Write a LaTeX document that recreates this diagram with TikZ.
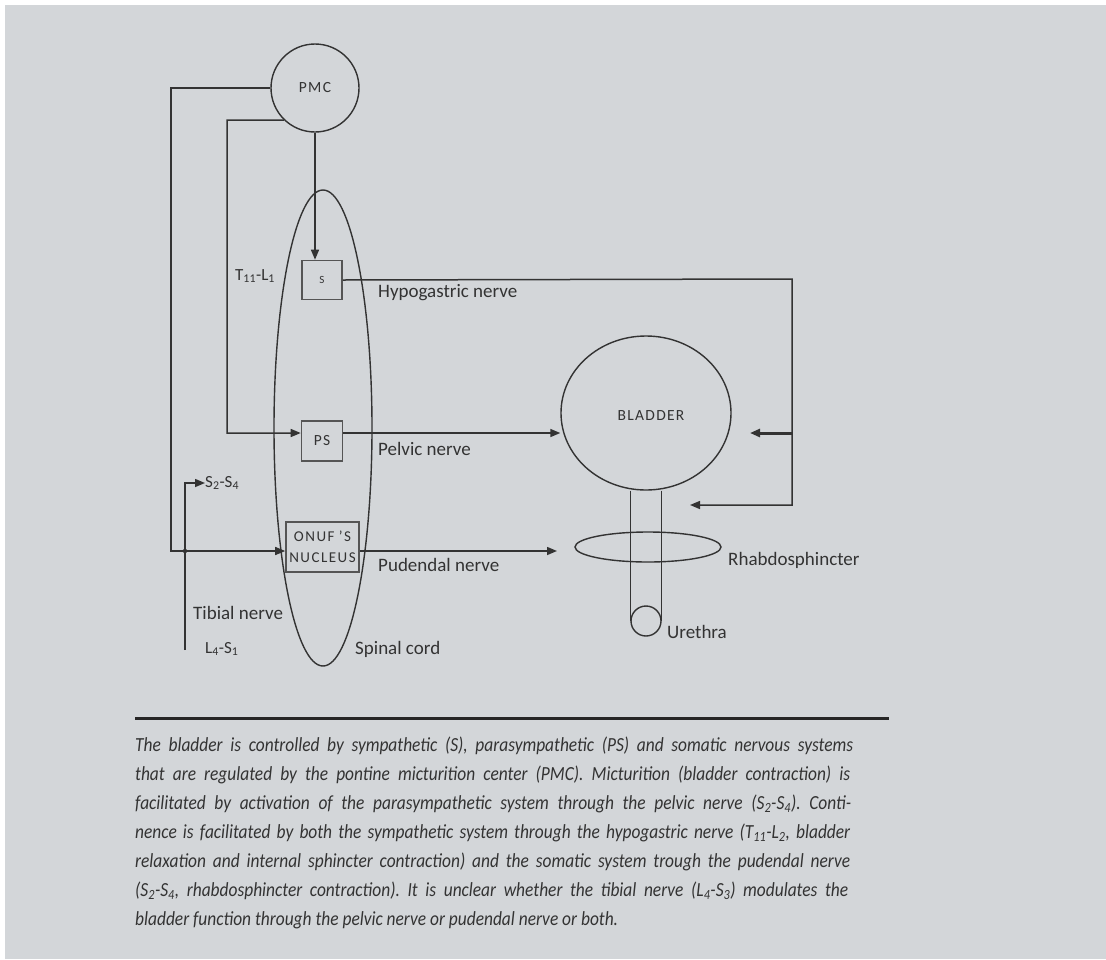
\documentclass[tikz,border=0pt]{standalone}
\usepackage{fontspec}
\setmainfont{Carlito}
\newfontfamily\capfam[FakeStretch=0.87]{Carlito}
\usetikzlibrary{arrows.meta,shapes.geometric}
\definecolor{bgc}{HTML}{D3D6D9}
\definecolor{ink}{HTML}{333333}
\definecolor{boxc}{HTML}{555555}
\newcommand{\lblfont}{\fontsize{19}{21}\selectfont}
\newcommand{\subfont}{\fontsize{17}{19}\selectfont}
\newcommand{\capsfont}{\fontsize{15.5}{16}\selectfont}
\newcommand{\onuffont}{\fontsize{15}{21}\selectfont}
\newcommand{\capfont}{\capfam\fontsize{20}{22}\selectfont\itshape}
\newcommand{\ks}{\kern1.3pt}
\newcommand{\ko}{\kern1.5pt}
\frenchspacing
\begin{document}
\begin{tikzpicture}[x=1pt,y=-1pt,
  line/.style={draw=ink,line width=1.5pt},
  arr/.style={line,-{Triangle[length=10pt,width=8pt]}},
  boxnode/.style={draw=boxc,line width=1.6pt,inner sep=0pt},
  lbl/.style={anchor=west,inner sep=0pt,text=ink,font=\lblfont},
  capline/.style={anchor=west,inner sep=0pt,text=ink,font=\capfont}]
\useasboundingbox (0,0) rectangle (1106,959);
\fill[white] (0,0) rectangle (1106,959);
\fill[bgc] (5,5) rectangle (1106,959);

% nodes
\node[circle,draw=ink,line width=1.4pt,minimum size=88pt,inner sep=0pt,text=ink,font=\capsfont] (pmc) at (315,88) {P\ks M\ks C};
\node[ellipse,draw=ink,line width=1.4pt,minimum width=98pt,minimum height=476pt,inner sep=0pt] (cord) at (323,428) {};
\node[boxnode,minimum width=40pt,minimum height=39pt,text=ink,font=\fontsize{11}{11}\selectfont] (sbox) at (322,280) {S};
\node[boxnode,minimum width=41pt,minimum height=40pt,text=ink,font=\capsfont] (psbox) at (322,441) {P\ks S};
\node[boxnode,minimum width=73pt,minimum height=50pt,align=center,text=ink,font=\onuffont] (onuf) at (322.5,547)
  {O\ko N\ko U\ko F\ \kern1pt'\ko S\\N\ko U\ko C\ko L\ko E\ko U\ko S};
\node[ellipse,draw=ink,line width=1.4pt,minimum width=170pt,minimum height=154pt,inner sep=0pt] (bladder) at (646,413) {};
\node[text=ink,inner sep=0pt,font=\capsfont] (bltext) at (651,416) {B\ks L\ks A\ks D\ks D\ks E\ks R};
\node[ellipse,draw=ink,line width=1.4pt,minimum width=146pt,minimum height=30pt,inner sep=0pt] (rhab) at (648,547) {};
\node[circle,draw=ink,line width=1.4pt,minimum size=30pt,inner sep=0pt] (ureth) at (646,621) {};

% labels
\node[lbl,font=\subfont] (t11) at (235,276) {T\textsubscript{11}-L\textsubscript{1}};
\node[lbl] (hyp) at (378,293) {Hypogastric nerve};
\node[lbl] (pel) at (378,449) {Pelvic nerve};
\node[lbl] (pud) at (378,565) {Pudendal nerve};
\node[lbl] (tib) at (193,613) {Tibial nerve};
\node[lbl,font=\subfont] (l4s1) at (205,649) {L\textsubscript{4}-S\textsubscript{1}};
\node[lbl] (spc) at (355,649) {Spinal cord};
\node[lbl] (rhl) at (728,560) {Rhabdosphincter};
\node[lbl] (url) at (667,632) {Urethra};
\node[lbl,font=\subfont] (s24) at (205,483) {S\textsubscript{2}-S\textsubscript{4}};

% connectors
\coordinate (a1) at (171,88);
\draw[arr] (pmc.west) -- (a1) |- ([yshift=-4pt]onuf.west);
\coordinate (a2) at (227,120);
\draw[arr] (pmc.226.7) -- (a2) |- ([yshift=8pt]psbox.west);
\draw[arr] (pmc.south) -- (pmc.south |- sbox.north);
\coordinate (h1) at (792,279);
\coordinate (h2) at (792,505);
\coordinate (h3) at (690,505);
\coordinate (h4) at (792,433);
\coordinate (h5) at (750,433);
\draw[arr] (sbox.east) -- (h1) -- (h2) -- (h3);
\draw[arr,line width=3pt] (h4) -- (h5);
\draw[arr] ([yshift=8pt]psbox.east) -- ([yshift=8pt]psbox.east -| bladder.west);
\coordinate (p1) at (557,551);
\draw[arr] ([yshift=-4pt]onuf.east) -- (p1);
\coordinate (t0) at (185,650);
\coordinate (t1) at (185,483);
\draw[arr] (t0) -- (t1) -- (s24.west);
\fill[ink] (185,551) circle (2.2);
\draw[line,line width=1.4pt] (ureth.west |- bladder.south) -- (ureth.west);
\draw[line,line width=1.4pt] (ureth.east |- bladder.south) -- (ureth.east);

% caption
\draw[draw=black!85,line width=3pt] (135,718) -- (889,718);
\node[capline] (c1) at (135,746) {\makebox[718pt][s]{The bladder is controlled by sympathetic (S), parasympathetic (PS) and somatic nervous systems}};
\node[capline] (c2) at (135,775) {\makebox[715pt][s]{that are regulated by the pontine micturition center (PMC). Micturition (bladder contraction) is}};
\node[capline] (c3) at (135,804) {\makebox[716pt][s]{facilitated by activation of the parasympathetic system through the pelvic nerve (S\textsubscript{2}-S\textsubscript{4}). Conti-}};
\node[capline] (c4) at (135,833) {\makebox[715pt][s]{nence is facilitated by both the sympathetic system through the hypogastric nerve (T\textsubscript{11}-L\textsubscript{2}, bladder}};
\node[capline] (c5) at (135,862) {\makebox[715pt][s]{relaxation and internal sphincter contraction) and the somatic system trough the pudendal nerve}};
\node[capline] (c6) at (135,891) {\makebox[713pt][s]{(S\textsubscript{2}-S\textsubscript{4}, rhabdosphincter contraction). It is unclear whether the tibial nerve (L\textsubscript{4}-S\textsubscript{3}) modulates the}};
\node[capline] (c7) at (135,920) {bladder function through the pelvic nerve or pudendal nerve or both.};
\end{tikzpicture}
\end{document}
